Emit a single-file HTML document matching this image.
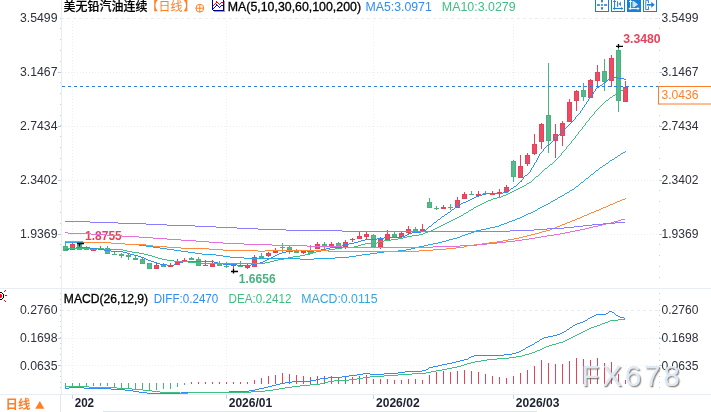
<!DOCTYPE html>
<html lang="zh-CN"><head><meta charset="utf-8"><title>美无铅汽油连续 日线</title>
<style>
html,body{margin:0;padding:0;background:#fff;}
body{width:711px;height:412px;overflow:hidden;position:relative;}
svg{position:absolute;left:0;top:0;display:block;}
text{font-family:"Liberation Sans","Noto Sans CJK SC",sans-serif;font-size:12px;}
.cj{font-family:"Liberation Sans","Noto Sans CJK SC",sans-serif;}
.ax{fill:#2d313c;}
.b{font-weight:bold;}
</style></head><body>
<svg width="711" height="412" viewBox="0 0 711 412">
<rect x="0" y="0" width="711" height="412" fill="#ffffff"/>
<g shape-rendering="crispEdges" fill="none">
<line x1="61" y1="18.5" x2="658" y2="18.5" stroke="#e8edf3" stroke-dasharray="3 3"/>
<line x1="61" y1="310.5" x2="658" y2="310.5" stroke="#e8edf3" stroke-dasharray="3 3"/>
<line x1="62" y1="72.5" x2="658" y2="72.5" stroke="#e9eef3" stroke-dasharray="1 2"/>
<line x1="62" y1="126.5" x2="658" y2="126.5" stroke="#e9eef3" stroke-dasharray="1 2"/>
<line x1="62" y1="180.5" x2="658" y2="180.5" stroke="#e9eef3" stroke-dasharray="1 2"/>
<line x1="62" y1="234.5" x2="658" y2="234.5" stroke="#e9eef3" stroke-dasharray="1 2"/>
<line x1="62" y1="338.5" x2="658" y2="338.5" stroke="#e9eef3" stroke-dasharray="1 2"/>
<line x1="62" y1="365.5" x2="658" y2="365.5" stroke="#e9eef3" stroke-dasharray="1 2"/>
<line x1="72.5" y1="21" x2="72.5" y2="288" stroke="#e9eef3" stroke-dasharray="1 2"/>
<line x1="72.5" y1="311" x2="72.5" y2="393" stroke="#e9eef3" stroke-dasharray="1 2"/>
<line x1="72.5" y1="394" x2="72.5" y2="399" stroke="#c9d6e2"/>
<line x1="226.5" y1="21" x2="226.5" y2="288" stroke="#e9eef3" stroke-dasharray="1 2"/>
<line x1="226.5" y1="311" x2="226.5" y2="393" stroke="#e9eef3" stroke-dasharray="1 2"/>
<line x1="226.5" y1="394" x2="226.5" y2="399" stroke="#c9d6e2"/>
<line x1="373.5" y1="21" x2="373.5" y2="288" stroke="#e9eef3" stroke-dasharray="1 2"/>
<line x1="373.5" y1="311" x2="373.5" y2="393" stroke="#e9eef3" stroke-dasharray="1 2"/>
<line x1="373.5" y1="394" x2="373.5" y2="399" stroke="#c9d6e2"/>
<line x1="513.5" y1="21" x2="513.5" y2="288" stroke="#e9eef3" stroke-dasharray="1 2"/>
<line x1="513.5" y1="311" x2="513.5" y2="393" stroke="#e9eef3" stroke-dasharray="1 2"/>
<line x1="513.5" y1="394" x2="513.5" y2="399" stroke="#c9d6e2"/>
<line x1="61.5" y1="0" x2="61.5" y2="394" stroke="#e7edf3"/>
<line x1="60.5" y1="394" x2="60.5" y2="412" stroke="#dfe6ee"/>
<line x1="0" y1="288.5" x2="711" y2="288.5" stroke="#e7edf3"/>
<line x1="0" y1="394.5" x2="711" y2="394.5" stroke="#e7edf3"/>
<line x1="103" y1="411.5" x2="537" y2="411.5" stroke="#dfe6ee"/>
</g>
<g fill="#b9c6d2" shape-rendering="crispEdges">
<rect x="58" y="72" width="3" height="1"/>
<rect x="659" y="72" width="3" height="1"/>
<rect x="58" y="126" width="3" height="1"/>
<rect x="659" y="126" width="3" height="1"/>
<rect x="58" y="180" width="3" height="1"/>
<rect x="659" y="180" width="3" height="1"/>
<rect x="58" y="234" width="3" height="1"/>
<rect x="659" y="234" width="3" height="1"/>
<rect x="58" y="338" width="3" height="1"/>
<rect x="659" y="338" width="3" height="1"/>
<rect x="58" y="365" width="3" height="1"/>
<rect x="659" y="365" width="3" height="1"/>
</g>
<g fill="#c3d0dc" shape-rendering="crispEdges">
<rect x="60" y="18" width="1" height="1"/>
<rect x="659" y="18" width="1" height="1"/>
<rect x="60" y="28" width="1" height="1"/>
<rect x="659" y="28" width="1" height="1"/>
<rect x="60" y="39" width="1" height="1"/>
<rect x="659" y="39" width="1" height="1"/>
<rect x="60" y="50" width="1" height="1"/>
<rect x="659" y="50" width="1" height="1"/>
<rect x="60" y="61" width="1" height="1"/>
<rect x="659" y="61" width="1" height="1"/>
<rect x="60" y="72" width="1" height="1"/>
<rect x="659" y="72" width="1" height="1"/>
<rect x="60" y="82" width="1" height="1"/>
<rect x="659" y="82" width="1" height="1"/>
<rect x="60" y="93" width="1" height="1"/>
<rect x="659" y="93" width="1" height="1"/>
<rect x="60" y="104" width="1" height="1"/>
<rect x="659" y="104" width="1" height="1"/>
<rect x="60" y="115" width="1" height="1"/>
<rect x="659" y="115" width="1" height="1"/>
<rect x="60" y="125" width="1" height="1"/>
<rect x="659" y="125" width="1" height="1"/>
<rect x="60" y="136" width="1" height="1"/>
<rect x="659" y="136" width="1" height="1"/>
<rect x="60" y="147" width="1" height="1"/>
<rect x="659" y="147" width="1" height="1"/>
<rect x="60" y="158" width="1" height="1"/>
<rect x="659" y="158" width="1" height="1"/>
<rect x="60" y="169" width="1" height="1"/>
<rect x="659" y="169" width="1" height="1"/>
<rect x="60" y="180" width="1" height="1"/>
<rect x="659" y="180" width="1" height="1"/>
<rect x="60" y="190" width="1" height="1"/>
<rect x="659" y="190" width="1" height="1"/>
<rect x="60" y="201" width="1" height="1"/>
<rect x="659" y="201" width="1" height="1"/>
<rect x="60" y="212" width="1" height="1"/>
<rect x="659" y="212" width="1" height="1"/>
<rect x="60" y="223" width="1" height="1"/>
<rect x="659" y="223" width="1" height="1"/>
<rect x="60" y="234" width="1" height="1"/>
<rect x="659" y="234" width="1" height="1"/>
<rect x="60" y="244" width="1" height="1"/>
<rect x="659" y="244" width="1" height="1"/>
<rect x="60" y="255" width="1" height="1"/>
<rect x="659" y="255" width="1" height="1"/>
<rect x="60" y="266" width="1" height="1"/>
<rect x="659" y="266" width="1" height="1"/>
<rect x="60" y="277" width="1" height="1"/>
<rect x="659" y="277" width="1" height="1"/>
<rect x="60" y="293" width="1" height="1"/>
<rect x="659" y="293" width="1" height="1"/>
<rect x="60" y="299" width="1" height="1"/>
<rect x="659" y="299" width="1" height="1"/>
<rect x="60" y="304" width="1" height="1"/>
<rect x="659" y="304" width="1" height="1"/>
<rect x="60" y="310" width="1" height="1"/>
<rect x="659" y="310" width="1" height="1"/>
<rect x="60" y="315" width="1" height="1"/>
<rect x="659" y="315" width="1" height="1"/>
<rect x="60" y="321" width="1" height="1"/>
<rect x="659" y="321" width="1" height="1"/>
<rect x="60" y="326" width="1" height="1"/>
<rect x="659" y="326" width="1" height="1"/>
<rect x="60" y="332" width="1" height="1"/>
<rect x="659" y="332" width="1" height="1"/>
<rect x="60" y="337" width="1" height="1"/>
<rect x="659" y="337" width="1" height="1"/>
<rect x="60" y="343" width="1" height="1"/>
<rect x="659" y="343" width="1" height="1"/>
<rect x="60" y="348" width="1" height="1"/>
<rect x="659" y="348" width="1" height="1"/>
<rect x="60" y="354" width="1" height="1"/>
<rect x="659" y="354" width="1" height="1"/>
<rect x="60" y="360" width="1" height="1"/>
<rect x="659" y="360" width="1" height="1"/>
<rect x="60" y="365" width="1" height="1"/>
<rect x="659" y="365" width="1" height="1"/>
<rect x="60" y="371" width="1" height="1"/>
<rect x="659" y="371" width="1" height="1"/>
<rect x="60" y="376" width="1" height="1"/>
<rect x="659" y="376" width="1" height="1"/>
<rect x="60" y="382" width="1" height="1"/>
<rect x="659" y="382" width="1" height="1"/>
<rect x="60" y="387" width="1" height="1"/>
<rect x="659" y="387" width="1" height="1"/>
</g>
<g shape-rendering="crispEdges">
<rect x="65" y="242" width="1" height="9" fill="#4ab181"/>
<rect x="63" y="246" width="5" height="5" fill="#4ab181"/>
<rect x="64" y="247" width="3" height="3" fill="#55ba8b"/>
<rect x="72" y="243" width="1" height="7" fill="#e6435a"/>
<rect x="70" y="244" width="5" height="6" fill="#e6435a"/>
<rect x="71" y="245" width="3" height="4" fill="#ea4d63"/>
<rect x="79" y="244" width="1" height="6" fill="#4ab181"/>
<rect x="77" y="244" width="5" height="6" fill="#4ab181"/>
<rect x="78" y="245" width="3" height="4" fill="#55ba8b"/>
<rect x="86" y="246" width="1" height="4" fill="#4ab181"/>
<rect x="84" y="249" width="5" height="1" fill="#4ab181"/>
<rect x="93" y="250" width="1" height="1" fill="#e6435a"/>
<rect x="91" y="250" width="5" height="1" fill="#e6435a"/>
<rect x="100" y="246" width="1" height="4" fill="#e6435a"/>
<rect x="98" y="249" width="5" height="1" fill="#e6435a"/>
<rect x="107" y="246" width="1" height="8" fill="#4ab181"/>
<rect x="105" y="248" width="5" height="6" fill="#4ab181"/>
<rect x="106" y="249" width="3" height="4" fill="#55ba8b"/>
<rect x="114" y="252" width="1" height="3" fill="#4ab181"/>
<rect x="112" y="254" width="5" height="1" fill="#4ab181"/>
<rect x="121" y="253" width="1" height="5" fill="#4ab181"/>
<rect x="119" y="254" width="5" height="2" fill="#4ab181"/>
<rect x="128" y="253" width="1" height="7" fill="#4ab181"/>
<rect x="126" y="255" width="5" height="2" fill="#4ab181"/>
<rect x="135" y="256" width="1" height="4" fill="#4ab181"/>
<rect x="133" y="258" width="5" height="2" fill="#4ab181"/>
<rect x="142" y="258" width="1" height="6" fill="#4ab181"/>
<rect x="140" y="259" width="5" height="5" fill="#4ab181"/>
<rect x="141" y="260" width="3" height="3" fill="#55ba8b"/>
<rect x="149" y="263" width="1" height="6" fill="#4ab181"/>
<rect x="147" y="263" width="5" height="6" fill="#4ab181"/>
<rect x="148" y="264" width="3" height="4" fill="#55ba8b"/>
<rect x="156" y="263" width="1" height="6" fill="#e6435a"/>
<rect x="154" y="265" width="5" height="4" fill="#e6435a"/>
<rect x="155" y="266" width="3" height="2" fill="#ea4d63"/>
<rect x="163" y="263" width="1" height="4" fill="#4ab181"/>
<rect x="161" y="265" width="5" height="2" fill="#4ab181"/>
<rect x="170" y="263" width="1" height="4" fill="#e6435a"/>
<rect x="168" y="265" width="5" height="2" fill="#e6435a"/>
<rect x="177" y="259" width="1" height="6" fill="#e6435a"/>
<rect x="175" y="262" width="5" height="3" fill="#e6435a"/>
<rect x="176" y="263" width="3" height="1" fill="#ea4d63"/>
<rect x="184" y="258" width="1" height="3" fill="#e6435a"/>
<rect x="182" y="260" width="5" height="1" fill="#e6435a"/>
<rect x="191" y="257" width="1" height="3" fill="#4ab181"/>
<rect x="189" y="258" width="5" height="2" fill="#4ab181"/>
<rect x="198" y="257" width="1" height="9" fill="#4ab181"/>
<rect x="196" y="259" width="5" height="7" fill="#4ab181"/>
<rect x="197" y="260" width="3" height="5" fill="#55ba8b"/>
<rect x="205" y="260" width="1" height="6" fill="#e6435a"/>
<rect x="203" y="265" width="5" height="1" fill="#e6435a"/>
<rect x="212" y="260" width="1" height="7" fill="#e6435a"/>
<rect x="210" y="264" width="5" height="3" fill="#e6435a"/>
<rect x="211" y="265" width="3" height="1" fill="#ea4d63"/>
<rect x="219" y="261" width="1" height="5" fill="#4ab181"/>
<rect x="217" y="263" width="5" height="3" fill="#4ab181"/>
<rect x="218" y="264" width="3" height="1" fill="#55ba8b"/>
<rect x="226" y="262" width="1" height="6" fill="#4ab181"/>
<rect x="224" y="266" width="5" height="1" fill="#4ab181"/>
<rect x="233" y="265" width="1" height="7" fill="#e6435a"/>
<rect x="231" y="265" width="5" height="1" fill="#e6435a"/>
<rect x="240" y="261" width="1" height="6" fill="#4ab181"/>
<rect x="238" y="266" width="5" height="1" fill="#4ab181"/>
<rect x="247" y="264" width="1" height="5" fill="#e6435a"/>
<rect x="245" y="266" width="5" height="2" fill="#e6435a"/>
<rect x="254" y="255" width="1" height="12" fill="#e6435a"/>
<rect x="252" y="257" width="5" height="10" fill="#e6435a"/>
<rect x="253" y="258" width="3" height="8" fill="#ea4d63"/>
<rect x="261" y="253" width="1" height="5" fill="#4ab181"/>
<rect x="259" y="256" width="5" height="2" fill="#4ab181"/>
<rect x="268" y="252" width="1" height="5" fill="#e6435a"/>
<rect x="266" y="253" width="5" height="3" fill="#e6435a"/>
<rect x="267" y="254" width="3" height="1" fill="#ea4d63"/>
<rect x="275" y="248" width="1" height="5" fill="#e6435a"/>
<rect x="273" y="250" width="5" height="3" fill="#e6435a"/>
<rect x="274" y="251" width="3" height="1" fill="#ea4d63"/>
<rect x="282" y="243" width="1" height="10" fill="#4ab181"/>
<rect x="280" y="247" width="5" height="1" fill="#4ab181"/>
<rect x="289" y="245" width="1" height="9" fill="#4ab181"/>
<rect x="287" y="247" width="5" height="3" fill="#4ab181"/>
<rect x="288" y="248" width="3" height="1" fill="#55ba8b"/>
<rect x="296" y="249" width="1" height="4" fill="#4ab181"/>
<rect x="294" y="251" width="5" height="2" fill="#4ab181"/>
<rect x="303" y="251" width="1" height="3" fill="#e6435a"/>
<rect x="301" y="251" width="5" height="2" fill="#e6435a"/>
<rect x="310" y="245" width="1" height="9" fill="#4ab181"/>
<rect x="308" y="251" width="5" height="3" fill="#4ab181"/>
<rect x="309" y="252" width="3" height="1" fill="#55ba8b"/>
<rect x="317" y="242" width="1" height="7" fill="#e6435a"/>
<rect x="315" y="244" width="5" height="5" fill="#e6435a"/>
<rect x="316" y="245" width="3" height="3" fill="#ea4d63"/>
<rect x="324" y="242" width="1" height="7" fill="#4ab181"/>
<rect x="322" y="244" width="5" height="3" fill="#4ab181"/>
<rect x="323" y="245" width="3" height="1" fill="#55ba8b"/>
<rect x="331" y="242" width="1" height="5" fill="#e6435a"/>
<rect x="329" y="244" width="5" height="3" fill="#e6435a"/>
<rect x="330" y="245" width="3" height="1" fill="#ea4d63"/>
<rect x="338" y="242" width="1" height="5" fill="#4ab181"/>
<rect x="336" y="243" width="5" height="4" fill="#4ab181"/>
<rect x="337" y="244" width="3" height="2" fill="#55ba8b"/>
<rect x="345" y="240" width="1" height="9" fill="#e6435a"/>
<rect x="343" y="242" width="5" height="5" fill="#e6435a"/>
<rect x="344" y="243" width="3" height="3" fill="#ea4d63"/>
<rect x="352" y="238" width="1" height="4" fill="#e6435a"/>
<rect x="350" y="239" width="5" height="1" fill="#e6435a"/>
<rect x="359" y="232" width="1" height="7" fill="#e6435a"/>
<rect x="357" y="236" width="5" height="3" fill="#e6435a"/>
<rect x="358" y="237" width="3" height="1" fill="#ea4d63"/>
<rect x="366" y="232" width="1" height="8" fill="#e6435a"/>
<rect x="364" y="234" width="5" height="3" fill="#e6435a"/>
<rect x="365" y="235" width="3" height="1" fill="#ea4d63"/>
<rect x="373" y="234" width="1" height="13" fill="#4ab181"/>
<rect x="371" y="235" width="5" height="12" fill="#4ab181"/>
<rect x="372" y="236" width="3" height="10" fill="#55ba8b"/>
<rect x="380" y="237" width="1" height="12" fill="#e6435a"/>
<rect x="378" y="239" width="5" height="8" fill="#e6435a"/>
<rect x="379" y="240" width="3" height="6" fill="#ea4d63"/>
<rect x="387" y="230" width="1" height="10" fill="#e6435a"/>
<rect x="385" y="234" width="5" height="6" fill="#e6435a"/>
<rect x="386" y="235" width="3" height="4" fill="#ea4d63"/>
<rect x="394" y="232" width="1" height="5" fill="#4ab181"/>
<rect x="392" y="234" width="5" height="3" fill="#4ab181"/>
<rect x="393" y="235" width="3" height="1" fill="#55ba8b"/>
<rect x="401" y="232" width="1" height="5" fill="#e6435a"/>
<rect x="399" y="233" width="5" height="4" fill="#e6435a"/>
<rect x="400" y="234" width="3" height="2" fill="#ea4d63"/>
<rect x="408" y="226" width="1" height="9" fill="#e6435a"/>
<rect x="406" y="229" width="5" height="4" fill="#e6435a"/>
<rect x="407" y="230" width="3" height="2" fill="#ea4d63"/>
<rect x="415" y="227" width="1" height="4" fill="#4ab181"/>
<rect x="413" y="229" width="5" height="2" fill="#4ab181"/>
<rect x="422" y="224" width="1" height="7" fill="#e6435a"/>
<rect x="420" y="229" width="5" height="2" fill="#e6435a"/>
<rect x="429" y="198" width="1" height="10" fill="#4ab181"/>
<rect x="427" y="202" width="5" height="6" fill="#4ab181"/>
<rect x="428" y="203" width="3" height="4" fill="#55ba8b"/>
<rect x="436" y="206" width="1" height="4" fill="#4ab181"/>
<rect x="434" y="208" width="5" height="1" fill="#4ab181"/>
<rect x="443" y="205" width="1" height="4" fill="#e6435a"/>
<rect x="441" y="207" width="5" height="2" fill="#e6435a"/>
<rect x="450" y="204" width="1" height="6" fill="#4ab181"/>
<rect x="448" y="207" width="5" height="1" fill="#4ab181"/>
<rect x="457" y="197" width="1" height="11" fill="#e6435a"/>
<rect x="455" y="200" width="5" height="8" fill="#e6435a"/>
<rect x="456" y="201" width="3" height="6" fill="#ea4d63"/>
<rect x="464" y="192" width="1" height="7" fill="#e6435a"/>
<rect x="462" y="194" width="5" height="5" fill="#e6435a"/>
<rect x="463" y="195" width="3" height="3" fill="#ea4d63"/>
<rect x="471" y="191" width="1" height="4" fill="#4ab181"/>
<rect x="469" y="194" width="5" height="1" fill="#4ab181"/>
<rect x="478" y="191" width="1" height="6" fill="#e6435a"/>
<rect x="476" y="194" width="5" height="2" fill="#e6435a"/>
<rect x="485" y="191" width="1" height="4" fill="#4ab181"/>
<rect x="483" y="193" width="5" height="1" fill="#4ab181"/>
<rect x="492" y="191" width="1" height="4" fill="#e6435a"/>
<rect x="490" y="194" width="5" height="1" fill="#e6435a"/>
<rect x="499" y="189" width="1" height="8" fill="#e6435a"/>
<rect x="497" y="192" width="5" height="2" fill="#e6435a"/>
<rect x="506" y="185" width="1" height="7" fill="#e6435a"/>
<rect x="504" y="187" width="5" height="5" fill="#e6435a"/>
<rect x="505" y="188" width="3" height="3" fill="#ea4d63"/>
<rect x="513" y="160" width="1" height="22" fill="#4ab181"/>
<rect x="511" y="161" width="5" height="16" fill="#4ab181"/>
<rect x="512" y="162" width="3" height="14" fill="#55ba8b"/>
<rect x="520" y="155" width="1" height="23" fill="#e6435a"/>
<rect x="518" y="166" width="5" height="12" fill="#e6435a"/>
<rect x="519" y="167" width="3" height="10" fill="#ea4d63"/>
<rect x="527" y="153" width="1" height="13" fill="#e6435a"/>
<rect x="525" y="155" width="5" height="9" fill="#e6435a"/>
<rect x="526" y="156" width="3" height="7" fill="#ea4d63"/>
<rect x="534" y="134" width="1" height="21" fill="#e6435a"/>
<rect x="532" y="144" width="5" height="10" fill="#e6435a"/>
<rect x="533" y="145" width="3" height="8" fill="#ea4d63"/>
<rect x="541" y="123" width="1" height="26" fill="#e6435a"/>
<rect x="539" y="124" width="5" height="18" fill="#e6435a"/>
<rect x="540" y="125" width="3" height="16" fill="#ea4d63"/>
<rect x="548" y="63" width="1" height="90" fill="#4ab181"/>
<rect x="546" y="115" width="5" height="26" fill="#4ab181"/>
<rect x="547" y="116" width="3" height="24" fill="#55ba8b"/>
<rect x="555" y="124" width="1" height="34" fill="#e6435a"/>
<rect x="553" y="134" width="5" height="7" fill="#e6435a"/>
<rect x="554" y="135" width="3" height="5" fill="#ea4d63"/>
<rect x="562" y="121" width="1" height="25" fill="#e6435a"/>
<rect x="560" y="123" width="5" height="13" fill="#e6435a"/>
<rect x="561" y="124" width="3" height="11" fill="#ea4d63"/>
<rect x="569" y="99" width="1" height="23" fill="#e6435a"/>
<rect x="567" y="102" width="5" height="20" fill="#e6435a"/>
<rect x="568" y="103" width="3" height="18" fill="#ea4d63"/>
<rect x="576" y="90" width="1" height="21" fill="#e6435a"/>
<rect x="574" y="91" width="5" height="10" fill="#e6435a"/>
<rect x="575" y="92" width="3" height="8" fill="#ea4d63"/>
<rect x="583" y="83" width="1" height="18" fill="#4ab181"/>
<rect x="581" y="90" width="5" height="7" fill="#4ab181"/>
<rect x="582" y="91" width="3" height="5" fill="#55ba8b"/>
<rect x="590" y="79" width="1" height="19" fill="#e6435a"/>
<rect x="588" y="80" width="5" height="18" fill="#e6435a"/>
<rect x="589" y="81" width="3" height="16" fill="#ea4d63"/>
<rect x="597" y="65" width="1" height="23" fill="#e6435a"/>
<rect x="595" y="72" width="5" height="9" fill="#e6435a"/>
<rect x="596" y="73" width="3" height="7" fill="#ea4d63"/>
<rect x="604" y="59" width="1" height="32" fill="#4ab181"/>
<rect x="602" y="71" width="5" height="11" fill="#4ab181"/>
<rect x="603" y="72" width="3" height="9" fill="#55ba8b"/>
<rect x="611" y="55" width="1" height="32" fill="#e6435a"/>
<rect x="609" y="58" width="5" height="23" fill="#e6435a"/>
<rect x="610" y="59" width="3" height="21" fill="#ea4d63"/>
<rect x="618" y="48" width="1" height="64" fill="#4ab181"/>
<rect x="616" y="50" width="5" height="51" fill="#4ab181"/>
<rect x="617" y="51" width="3" height="49" fill="#55ba8b"/>
<rect x="625" y="81" width="1" height="21" fill="#e6435a"/>
<rect x="623" y="87" width="5" height="15" fill="#e6435a"/>
<rect x="624" y="88" width="3" height="13" fill="#ea4d63"/>
</g>
<line x1="62" y1="86.5" x2="658" y2="86.5" stroke="#1a80f0" stroke-width="1" stroke-dasharray="3 3" shape-rendering="crispEdges"/>
<text class="b" x="85.1" y="240.3" fill="#e6435a" textLength="36.6" lengthAdjust="spacingAndGlyphs">1.8755</text>
<text class="b" x="238.8" y="282.9" fill="#4ab181" textLength="36.8" lengthAdjust="spacingAndGlyphs">1.6656</text>
<text class="b" x="623.2" y="43" fill="#e6435a" textLength="37.4" lengthAdjust="spacingAndGlyphs">3.3480</text>
<path d="M65 249h4v1h-4zM69 248h7v1h-7zM76 247h14v1h-14zM90 248h12v1h-12zM102 249h2v1h-2zM104 250h7v1h-7zM111 251h12v1h-12zM123 252h4v1h-4zM127 253h3v1h-3zM130 254h4v1h-4zM134 255h4v1h-4zM138 256h3v1h-3zM141 257h3v1h-3zM144 258h2v1h-2zM146 259h2v1h-2zM148 260h3v1h-3zM151 261h3v1h-3zM154 262h3v1h-3zM157 263h3v1h-3zM160 264h7v1h-7zM167 265h7v1h-7zM174 264h2v1h-2zM176 263h4v1h-4zM180 262h3v1h-3zM183 261h31v1h-31zM214 262h4v1h-4zM218 263h5v1h-5zM223 264h14v1h-14zM237 265h14v1h-14zM251 264h5v1h-5zM256 263h4v1h-4zM260 262h3v1h-3zM263 261h2v1h-2zM265 260h2v1h-2zM267 259h2v1h-2zM269 258h2v1h-2zM271 257h2v1h-2zM273 256h2v1h-2zM275 255h2v1h-2zM277 254h2v1h-2zM279 253h3v1h-3zM282 252h4v1h-4zM286 251h7v1h-7zM293 250h14v1h-14zM307 251h7v1h-7zM314 250h7v1h-7zM321 249h5v1h-5zM326 248h4v1h-4zM330 247h11v1h-11zM341 246h1v2h-1zM342 245h2v1h-2zM344 244h5v1h-5zM349 243h5v1h-5zM354 242h4v1h-4zM358 241h3v1h-3zM361 240h4v1h-4zM365 239h12v1h-12zM377 238h7v1h-7zM384 237h18v1h-18zM402 236h3v1h-3zM405 235h2v1h-2zM407 234h2v1h-2zM409 233h3v1h-3zM412 232h9v1h-9zM421 231h3v1h-3zM424 230h2v1h-2zM426 229h1v1h-1zM427 228h1v1h-1zM428 227h1v1h-1zM429 226h2v1h-2zM431 225h1v1h-1zM432 224h1v1h-1zM433 223h1v1h-1zM434 222h2v1h-2zM436 221h1v1h-1zM437 220h1v1h-1zM438 219h2v1h-2zM440 218h1v1h-1zM441 217h1v1h-1zM442 216h2v1h-2zM444 215h1v1h-1zM445 214h2v1h-2zM447 213h1v1h-1zM448 212h2v1h-2zM450 211h1v1h-1zM451 210h1v1h-1zM452 209h2v1h-2zM454 208h1v1h-1zM455 207h1v1h-1zM456 206h2v1h-2zM458 205h1v1h-1zM459 204h2v1h-2zM461 203h2v1h-2zM463 202h3v1h-3zM466 201h2v1h-2zM468 200h2v1h-2zM470 199h2v1h-2zM472 198h2v1h-2zM474 197h2v1h-2zM476 196h3v1h-3zM479 195h3v1h-3zM482 194h3v1h-3zM485 193h18v1h-18zM503 192h5v1h-5zM508 191h1v1h-1zM509 190h1v1h-1zM510 189h1v1h-1zM511 188h2v1h-2zM513 187h1v1h-1zM514 186h2v1h-2zM516 185h1v1h-1zM517 184h1v1h-1zM518 183h1v1h-1zM519 182h1v1h-1zM520 181h1v1h-1zM521 180h1v2h-1zM522 179h1v1h-1zM523 177h1v2h-1zM524 176h1v1h-1zM525 175h2v1h-2zM527 174h1v1h-1zM528 173h1v1h-1zM529 172h1v1h-1zM530 170h1v2h-1zM531 168h1v2h-1zM532 167h1v1h-1zM533 165h1v2h-1zM534 163h1v2h-1zM535 162h1v1h-1zM536 160h1v2h-1zM537 158h1v2h-1zM538 156h1v2h-1zM539 154h1v2h-1zM540 153h1v1h-1zM541 152h1v1h-1zM542 151h1v1h-1zM543 149h1v2h-1zM544 148h1v1h-1zM545 147h1v1h-1zM546 146h1v1h-1zM547 145h2v1h-2zM549 144h1v1h-1zM550 143h1v1h-1zM551 142h1v1h-1zM552 141h1v1h-1zM553 140h1v1h-1zM554 139h1v1h-1zM555 138h1v1h-1zM556 137h1v1h-1zM557 136h1v1h-1zM558 135h1v1h-1zM559 134h1v1h-1zM560 133h1v1h-1zM561 132h1v1h-1zM562 131h1v1h-1zM563 130h1v1h-1zM564 129h1v1h-1zM565 128h1v1h-1zM566 127h1v1h-1zM567 126h1v1h-1zM568 125h1v1h-1zM569 124h1v1h-1zM570 123h1v1h-1zM571 122h1v1h-1zM572 121h1v1h-1zM573 120h1v1h-1zM574 119h1v1h-1zM575 117h1v2h-1zM576 116h1v1h-1zM577 115h1v1h-1zM578 114h1v1h-1zM579 113h1v1h-1zM580 111h1v2h-1zM581 110h1v1h-1zM582 108h1v2h-1zM583 107h1v1h-1zM584 105h1v2h-1zM585 104h1v1h-1zM586 102h1v2h-1zM587 101h1v1h-1zM588 99h1v2h-1zM589 98h1v1h-1zM590 96h1v2h-1zM591 95h1v1h-1zM592 94h1v1h-1zM593 92h1v2h-1zM594 91h1v1h-1zM595 89h1v2h-1zM596 88h1v1h-1zM597 87h2v1h-2zM599 86h1v1h-1zM600 85h2v1h-2zM602 84h1v1h-1zM603 83h1v1h-1zM604 82h2v1h-2zM606 81h1v1h-1zM607 80h1v1h-1zM608 79h2v1h-2zM610 78h1v1h-1zM611 77h7v1h-7zM618 78h6v1h-6zM624 79h2v1h-2z" fill="#2f8cfa" shape-rendering="crispEdges"/>
<path d="M65 248h25v1h-25zM90 249h7v1h-7zM97 248h7v1h-7zM104 249h19v1h-19zM123 250h4v1h-4zM127 251h5v1h-5zM132 252h7v1h-7zM139 253h5v1h-5zM144 254h4v1h-4zM148 255h4v1h-4zM152 256h3v1h-3zM155 257h3v1h-3zM158 258h4v1h-4zM162 259h5v1h-5zM167 260h7v1h-7zM174 261h14v1h-14zM188 262h11v1h-11zM199 263h66v1h-66zM265 262h5v1h-5zM270 261h4v1h-4zM274 260h4v1h-4zM278 259h6v1h-6zM284 258h4v1h-4zM288 257h5v1h-5zM293 256h7v1h-7zM300 255h5v1h-5zM305 254h5v1h-5zM310 253h3v1h-3zM313 252h3v1h-3zM316 251h5v1h-5zM321 250h8v1h-8zM329 249h6v1h-6zM335 248h7v1h-7zM342 247h12v1h-12zM354 246h4v1h-4zM358 245h3v1h-3zM361 244h4v1h-4zM365 243h12v1h-12zM377 242h2v1h-2zM379 241h5v1h-5zM384 240h7v1h-7zM391 239h7v1h-7zM398 238h5v1h-5zM403 237h4v1h-4zM407 236h5v1h-5zM412 235h7v1h-7zM419 234h4v1h-4zM423 233h2v1h-2zM425 232h3v1h-3zM428 231h3v1h-3zM431 230h2v1h-2zM433 229h2v1h-2zM435 228h2v1h-2zM437 227h2v1h-2zM439 226h2v1h-2zM441 225h2v1h-2zM443 224h2v1h-2zM445 223h2v1h-2zM447 222h2v1h-2zM449 221h2v1h-2zM451 220h2v1h-2zM453 219h2v1h-2zM455 218h2v1h-2zM457 217h2v1h-2zM459 216h2v1h-2zM461 215h2v1h-2zM463 214h1v1h-1zM464 213h2v1h-2zM466 212h2v1h-2zM468 211h1v1h-1zM469 210h2v1h-2zM471 209h2v1h-2zM473 208h1v1h-1zM474 207h2v1h-2zM476 206h2v1h-2zM478 205h2v1h-2zM480 204h2v1h-2zM482 203h2v1h-2zM484 202h2v1h-2zM486 201h2v1h-2zM488 200h3v1h-3zM491 199h2v1h-2zM493 198h4v1h-4zM497 197h4v1h-4zM501 196h2v1h-2zM503 195h3v1h-3zM506 194h2v1h-2zM508 193h2v1h-2zM510 192h2v1h-2zM512 191h2v1h-2zM514 190h2v1h-2zM516 189h2v1h-2zM518 188h2v1h-2zM520 187h2v1h-2zM522 186h2v1h-2zM524 185h2v1h-2zM526 184h1v1h-1zM527 183h2v1h-2zM529 182h2v1h-2zM531 181h1v1h-1zM532 180h1v1h-1zM533 179h1v1h-1zM534 178h1v1h-1zM535 177h1v1h-1zM536 176h2v1h-2zM538 175h1v1h-1zM539 174h1v1h-1zM540 173h1v1h-1zM541 172h1v1h-1zM542 171h1v1h-1zM543 170h1v1h-1zM544 169h1v1h-1zM545 168h2v1h-2zM547 167h1v1h-1zM548 166h1v1h-1zM549 165h1v1h-1zM550 164h2v1h-2zM552 163h1v1h-1zM553 162h1v1h-1zM554 161h1v1h-1zM555 160h1v1h-1zM556 159h1v1h-1zM557 158h1v1h-1zM558 157h1v1h-1zM559 156h1v1h-1zM560 155h1v1h-1zM561 153h1v2h-1zM562 152h1v1h-1zM563 151h1v1h-1zM564 150h1v1h-1zM565 149h1v1h-1zM566 147h1v2h-1zM567 146h1v1h-1zM568 145h1v1h-1zM569 144h1v1h-1zM570 143h1v1h-1zM571 141h1v2h-1zM572 140h1v1h-1zM573 139h1v1h-1zM574 138h1v1h-1zM575 136h1v2h-1zM576 135h1v1h-1zM577 134h1v1h-1zM578 132h1v2h-1zM579 131h1v1h-1zM580 130h1v1h-1zM581 129h1v1h-1zM582 127h1v2h-1zM583 126h1v1h-1zM584 125h1v1h-1zM585 123h1v2h-1zM586 122h1v1h-1zM587 121h1v1h-1zM588 120h1v1h-1zM589 118h1v2h-1zM590 117h1v1h-1zM591 116h1v1h-1zM592 115h1v1h-1zM593 114h1v1h-1zM594 112h1v2h-1zM595 111h1v1h-1zM596 110h1v1h-1zM597 109h1v1h-1zM598 108h1v1h-1zM599 107h1v1h-1zM600 106h1v1h-1zM601 105h1v1h-1zM602 104h1v1h-1zM603 103h1v1h-1zM604 102h1v1h-1zM605 101h1v1h-1zM606 100h2v1h-2zM608 99h1v1h-1zM609 98h1v1h-1zM610 97h2v1h-2zM612 96h1v1h-1zM613 95h2v1h-2zM615 94h1v1h-1zM616 93h2v1h-2zM618 92h2v1h-2zM620 91h1v1h-1zM621 90h2v1h-2zM623 89h2v1h-2z" fill="#3fc083" shape-rendering="crispEdges"/>
<path d="M65 242h46v1h-46zM111 243h14v1h-14zM125 244h14v1h-14zM139 245h7v1h-7zM146 246h7v1h-7zM153 247h7v1h-7zM160 248h7v1h-7zM167 249h7v1h-7zM174 250h7v1h-7zM181 251h7v1h-7zM188 252h7v1h-7zM195 253h7v1h-7zM202 254h14v1h-14zM216 255h7v1h-7zM223 256h7v1h-7zM230 257h14v1h-14zM244 258h56v1h-56zM300 259h14v1h-14zM314 258h21v1h-21zM335 257h14v1h-14zM349 256h7v1h-7zM356 255h6v1h-6zM362 254h8v1h-8zM370 253h7v1h-7zM377 252h7v1h-7zM384 251h14v1h-14zM398 250h8v1h-8zM406 249h5v1h-5zM411 248h4v1h-4zM415 247h4v1h-4zM419 246h5v1h-5zM424 245h4v1h-4zM428 244h5v1h-5zM433 243h5v1h-5zM438 242h4v1h-4zM442 241h4v1h-4zM446 240h3v1h-3zM449 239h4v1h-4zM453 238h4v1h-4zM457 237h3v1h-3zM460 236h2v1h-2zM462 235h3v1h-3zM465 234h3v1h-3zM468 233h3v1h-3zM471 232h3v1h-3zM474 231h2v1h-2zM476 230h5v1h-5zM481 229h5v1h-5zM486 228h4v1h-4zM490 227h5v1h-5zM495 226h4v1h-4zM499 225h2v1h-2zM501 224h3v1h-3zM504 223h3v1h-3zM507 222h2v1h-2zM509 221h3v1h-3zM512 220h3v1h-3zM515 219h2v1h-2zM517 218h3v1h-3zM520 217h2v1h-2zM522 216h2v1h-2zM524 215h2v1h-2zM526 214h2v1h-2zM528 213h3v1h-3zM531 212h2v1h-2zM533 211h2v1h-2zM535 210h2v1h-2zM537 209h1v1h-1zM538 208h2v1h-2zM540 207h2v1h-2zM542 206h2v1h-2zM544 205h2v1h-2zM546 204h2v1h-2zM548 203h2v1h-2zM550 202h1v1h-1zM551 201h2v1h-2zM553 200h2v1h-2zM555 199h2v1h-2zM557 198h1v1h-1zM558 197h2v1h-2zM560 196h2v1h-2zM562 195h2v1h-2zM564 194h1v1h-1zM565 193h2v1h-2zM567 192h2v1h-2zM569 191h1v1h-1zM570 190h2v1h-2zM572 189h2v1h-2zM574 188h1v1h-1zM575 187h1v1h-1zM576 186h2v1h-2zM578 185h1v1h-1zM579 184h1v1h-1zM580 183h1v1h-1zM581 182h2v1h-2zM583 181h1v1h-1zM584 180h1v1h-1zM585 179h1v1h-1zM586 178h2v1h-2zM588 177h1v1h-1zM589 176h1v1h-1zM590 175h1v1h-1zM591 174h2v1h-2zM593 173h1v1h-1zM594 172h1v1h-1zM595 171h1v1h-1zM596 170h2v1h-2zM598 169h1v1h-1zM599 168h1v1h-1zM600 167h2v1h-2zM602 166h1v1h-1zM603 165h2v1h-2zM605 164h1v1h-1zM606 163h2v1h-2zM608 162h1v1h-1zM609 161h1v1h-1zM610 160h2v1h-2zM612 159h2v1h-2zM614 158h1v1h-1zM615 157h2v1h-2zM617 156h1v1h-1zM618 155h2v1h-2zM620 154h1v1h-1zM621 153h2v1h-2zM623 152h2v1h-2zM625 151h1v1h-1z" fill="#27a8e8" shape-rendering="crispEdges"/>
<path d="M65 241h18v1h-18zM83 242h28v1h-28zM111 243h14v1h-14zM125 244h21v1h-21zM146 245h7v1h-7zM153 246h14v1h-14zM167 247h14v1h-14zM181 248h28v1h-28zM209 249h14v1h-14zM223 250h35v1h-35zM258 251h7v1h-7zM265 250h63v1h-63zM328 251h91v1h-91zM419 250h14v1h-14zM433 249h13v1h-13zM446 248h10v1h-10zM456 247h8v1h-8zM464 246h3v1h-3zM467 245h7v1h-7zM474 244h8v1h-8zM482 243h7v1h-7zM489 242h8v1h-8zM497 241h6v1h-6zM503 240h5v1h-5zM508 239h6v1h-6zM514 238h5v1h-5zM519 237h4v1h-4zM523 236h4v1h-4zM527 235h4v1h-4zM531 234h4v1h-4zM535 233h4v1h-4zM539 232h3v1h-3zM542 231h4v1h-4zM546 230h4v1h-4zM550 229h2v1h-2zM552 228h3v1h-3zM555 227h2v1h-2zM557 226h3v1h-3zM560 225h2v1h-2zM562 224h3v1h-3zM565 223h2v1h-2zM567 222h3v1h-3zM570 221h2v1h-2zM572 220h3v1h-3zM575 219h2v1h-2zM577 218h3v1h-3zM580 217h2v1h-2zM582 216h2v1h-2zM584 215h3v1h-3zM587 214h2v1h-2zM589 213h2v1h-2zM591 212h3v1h-3zM594 211h2v1h-2zM596 210h3v1h-3zM599 209h2v1h-2zM601 208h2v1h-2zM603 207h3v1h-3zM606 206h2v1h-2zM608 205h2v1h-2zM610 204h3v1h-3zM613 203h2v1h-2zM615 202h2v1h-2zM617 201h3v1h-3zM620 200h2v1h-2zM622 199h3v1h-3zM625 198h1v1h-1z" fill="#ff8a3a" shape-rendering="crispEdges"/>
<path d="M65 232h3v1h-3zM68 233h23v1h-23zM91 234h16v1h-16zM107 235h15v1h-15zM122 236h17v1h-17zM139 237h14v1h-14zM153 238h14v1h-14zM167 239h14v1h-14zM181 240h15v1h-15zM196 241h13v1h-13zM209 242h14v1h-14zM223 243h21v1h-21zM244 244h28v1h-28zM272 245h35v1h-35zM307 246h35v1h-35zM342 247h91v1h-91zM433 246h27v1h-27zM460 245h17v1h-17zM477 244h10v1h-10zM487 243h10v1h-10zM497 242h9v1h-9zM506 241h9v1h-9zM515 240h7v1h-7zM522 239h7v1h-7zM529 238h6v1h-6zM535 237h6v1h-6zM541 236h6v1h-6zM547 235h7v1h-7zM554 234h6v1h-6zM560 233h5v1h-5zM565 232h5v1h-5zM570 231h5v1h-5zM575 230h5v1h-5zM580 229h5v1h-5zM585 228h4v1h-4zM589 227h4v1h-4zM593 226h5v1h-5zM598 225h4v1h-4zM602 224h4v1h-4zM606 223h5v1h-5zM611 222h3v1h-3zM614 221h4v1h-4zM618 220h3v1h-3zM621 219h4v1h-4z" fill="#e66fe0" shape-rendering="crispEdges"/>
<path d="M65 221h25v1h-25zM90 222h28v1h-28zM118 223h28v1h-28zM146 224h21v1h-21zM167 225h28v1h-28zM195 226h21v1h-21zM216 227h21v1h-21zM237 228h21v1h-21zM258 229h28v1h-28zM286 230h56v1h-56zM342 231h168v1h-168zM510 230h24v1h-24zM534 229h13v1h-13zM547 228h17v1h-17zM564 227h10v1h-10zM574 226h9v1h-9zM583 225h9v1h-9zM592 224h11v1h-11zM603 223h12v1h-12zM615 222h10v1h-10z" fill="#8a7cff" shape-rendering="crispEdges"/>
<g stroke="#000" stroke-width="1.3" fill="none">
<path d="M77 243.5H84M79.5 243V246.5"/>
<path d="M231 271.5H238M233.5 269V273.5"/>
<path d="M616 46.4H623M618.5 44V47.9"/>
</g>
<g shape-rendering="crispEdges">
<rect x="65" y="383" width="1" height="6" fill="#4ab181"/>
<rect x="72" y="383" width="1" height="4" fill="#4ab181"/>
<rect x="79" y="383" width="1" height="3" fill="#4ab181"/>
<rect x="86" y="383" width="1" height="3" fill="#4ab181"/>
<rect x="93" y="383" width="1" height="3" fill="#4ab181"/>
<rect x="100" y="383" width="1" height="3" fill="#4ab181"/>
<rect x="107" y="383" width="1" height="3" fill="#4ab181"/>
<rect x="114" y="383" width="1" height="4" fill="#4ab181"/>
<rect x="121" y="383" width="1" height="5" fill="#4ab181"/>
<rect x="128" y="383" width="1" height="5" fill="#4ab181"/>
<rect x="135" y="383" width="1" height="6" fill="#4ab181"/>
<rect x="142" y="383" width="1" height="6" fill="#4ab181"/>
<rect x="149" y="383" width="1" height="7" fill="#4ab181"/>
<rect x="156" y="383" width="1" height="7" fill="#4ab181"/>
<rect x="163" y="383" width="1" height="6" fill="#4ab181"/>
<rect x="170" y="383" width="1" height="6" fill="#4ab181"/>
<rect x="177" y="383" width="1" height="4" fill="#4ab181"/>
<rect x="184" y="383" width="1" height="2" fill="#4ab181"/>
<rect x="191" y="382" width="1" height="2" fill="#e6435a"/>
<rect x="198" y="382" width="1" height="2" fill="#e6435a"/>
<rect x="205" y="382" width="1" height="2" fill="#e6435a"/>
<rect x="212" y="382" width="1" height="2" fill="#e6435a"/>
<rect x="219" y="382" width="1" height="2" fill="#e6435a"/>
<rect x="226" y="382" width="1" height="2" fill="#e6435a"/>
<rect x="233" y="382" width="1" height="2" fill="#e6435a"/>
<rect x="240" y="382" width="1" height="2" fill="#e6435a"/>
<rect x="247" y="382" width="1" height="2" fill="#e6435a"/>
<rect x="254" y="380" width="1" height="4" fill="#e6435a"/>
<rect x="261" y="378" width="1" height="6" fill="#e6435a"/>
<rect x="268" y="376" width="1" height="8" fill="#e6435a"/>
<rect x="275" y="375" width="1" height="9" fill="#e6435a"/>
<rect x="282" y="373" width="1" height="11" fill="#e6435a"/>
<rect x="289" y="374" width="1" height="10" fill="#e6435a"/>
<rect x="296" y="375" width="1" height="9" fill="#e6435a"/>
<rect x="303" y="376" width="1" height="8" fill="#e6435a"/>
<rect x="310" y="377" width="1" height="7" fill="#e6435a"/>
<rect x="317" y="376" width="1" height="8" fill="#e6435a"/>
<rect x="324" y="376" width="1" height="8" fill="#e6435a"/>
<rect x="331" y="376" width="1" height="8" fill="#e6435a"/>
<rect x="338" y="377" width="1" height="7" fill="#e6435a"/>
<rect x="345" y="377" width="1" height="7" fill="#e6435a"/>
<rect x="352" y="377" width="1" height="7" fill="#e6435a"/>
<rect x="359" y="376" width="1" height="8" fill="#e6435a"/>
<rect x="366" y="375" width="1" height="9" fill="#e6435a"/>
<rect x="373" y="379" width="1" height="5" fill="#e6435a"/>
<rect x="380" y="379" width="1" height="5" fill="#e6435a"/>
<rect x="387" y="379" width="1" height="5" fill="#e6435a"/>
<rect x="394" y="380" width="1" height="4" fill="#e6435a"/>
<rect x="401" y="380" width="1" height="4" fill="#e6435a"/>
<rect x="408" y="379" width="1" height="5" fill="#e6435a"/>
<rect x="415" y="379" width="1" height="5" fill="#e6435a"/>
<rect x="422" y="380" width="1" height="4" fill="#e6435a"/>
<rect x="429" y="375" width="1" height="9" fill="#e6435a"/>
<rect x="436" y="372" width="1" height="12" fill="#e6435a"/>
<rect x="443" y="371" width="1" height="13" fill="#e6435a"/>
<rect x="450" y="372" width="1" height="12" fill="#e6435a"/>
<rect x="457" y="371" width="1" height="13" fill="#e6435a"/>
<rect x="464" y="370" width="1" height="14" fill="#e6435a"/>
<rect x="471" y="371" width="1" height="13" fill="#e6435a"/>
<rect x="478" y="372" width="1" height="12" fill="#e6435a"/>
<rect x="485" y="374" width="1" height="10" fill="#e6435a"/>
<rect x="492" y="376" width="1" height="8" fill="#e6435a"/>
<rect x="499" y="377" width="1" height="7" fill="#e6435a"/>
<rect x="506" y="378" width="1" height="6" fill="#e6435a"/>
<rect x="513" y="376" width="1" height="8" fill="#e6435a"/>
<rect x="520" y="373" width="1" height="11" fill="#e6435a"/>
<rect x="527" y="370" width="1" height="14" fill="#e6435a"/>
<rect x="534" y="366" width="1" height="18" fill="#e6435a"/>
<rect x="541" y="360" width="1" height="24" fill="#e6435a"/>
<rect x="548" y="363" width="1" height="21" fill="#e6435a"/>
<rect x="555" y="364" width="1" height="20" fill="#e6435a"/>
<rect x="562" y="364" width="1" height="20" fill="#e6435a"/>
<rect x="569" y="361" width="1" height="23" fill="#e6435a"/>
<rect x="576" y="358" width="1" height="26" fill="#e6435a"/>
<rect x="583" y="359" width="1" height="25" fill="#e6435a"/>
<rect x="590" y="360" width="1" height="24" fill="#e6435a"/>
<rect x="597" y="358" width="1" height="26" fill="#e6435a"/>
<rect x="604" y="363" width="1" height="21" fill="#e6435a"/>
<rect x="611" y="362" width="1" height="22" fill="#e6435a"/>
<rect x="618" y="374" width="1" height="10" fill="#e6435a"/>
<rect x="625" y="380" width="1" height="4" fill="#e6435a"/>
</g>
<path d="M65 388h4v1h-4zM69 387h15v1h-15zM84 388h27v1h-27zM111 389h14v1h-14zM125 390h8v1h-8zM133 391h6v1h-6zM139 392h8v1h-8zM147 393h34v1h-34zM181 392h48v1h-48zM229 391h20v1h-20zM249 390h6v1h-6zM255 389h4v1h-4zM259 388h5v1h-5zM264 387h4v1h-4zM268 386h4v1h-4zM272 385h4v1h-4zM276 384h4v1h-4zM280 383h5v1h-5zM285 382h7v1h-7zM292 381h18v1h-18zM310 380h6v1h-6zM316 379h4v1h-4zM320 378h8v1h-8zM328 377h14v1h-14zM342 376h7v1h-7zM349 375h8v1h-8zM357 374h6v1h-6zM363 373h7v1h-7zM370 374h14v1h-14zM384 373h14v1h-14zM398 372h7v1h-7zM405 371h17v1h-17zM422 370h4v1h-4zM426 369h2v1h-2zM428 368h1v1h-1zM429 367h4v1h-4zM433 366h5v1h-5zM438 365h4v1h-4zM442 364h5v1h-5zM447 363h5v1h-5zM452 362h4v1h-4zM456 361h4v1h-4zM460 360h4v1h-4zM464 359h4v1h-4zM468 358h1v1h-1zM469 357h2v1h-2zM471 356h3v1h-3zM474 355h30v1h-30zM504 354h8v1h-8zM512 353h4v1h-4zM516 352h3v1h-3zM519 351h2v1h-2zM521 350h2v1h-2zM523 349h2v1h-2zM525 348h1v1h-1zM526 347h2v1h-2zM528 346h2v1h-2zM530 345h2v1h-2zM532 344h2v1h-2zM534 343h1v1h-1zM535 342h2v1h-2zM537 341h2v1h-2zM539 340h1v1h-1zM540 339h2v1h-2zM542 338h2v1h-2zM544 337h4v1h-4zM548 336h5v1h-5zM553 335h4v1h-4zM557 334h3v1h-3zM560 333h2v1h-2zM562 332h2v1h-2zM564 331h2v1h-2zM566 330h1v1h-1zM567 329h2v1h-2zM569 328h1v1h-1zM570 327h2v1h-2zM572 326h1v1h-1zM573 325h2v1h-2zM575 324h2v1h-2zM577 323h3v1h-3zM580 322h3v1h-3zM583 321h2v1h-2zM585 320h2v1h-2zM587 319h1v1h-1zM588 318h2v1h-2zM590 317h2v1h-2zM592 316h2v1h-2zM594 315h2v1h-2zM596 314h10v1h-10zM606 313h2v1h-2zM608 312h1v1h-1zM609 311h3v1h-3zM612 312h2v1h-2zM614 313h1v1h-1zM615 314h1v1h-1zM616 315h2v1h-2zM618 316h2v1h-2zM620 317h4v1h-4zM624 318h1v1h-1z" fill="#2f8cfa" shape-rendering="crispEdges"/>
<path d="M65 386h24v1h-24zM89 387h28v1h-28zM117 388h15v1h-15zM132 389h11v1h-11zM143 390h9v1h-9zM152 391h8v1h-8zM160 392h20v1h-20zM180 393h8v1h-8zM188 392h63v1h-63zM251 391h14v1h-14zM265 390h8v1h-8zM273 389h6v1h-6zM279 388h6v1h-6zM285 387h7v1h-7zM292 386h8v1h-8zM300 385h10v1h-10zM310 384h10v1h-10zM320 383h4v1h-4zM324 382h4v1h-4zM328 381h6v1h-6zM334 380h15v1h-15zM349 379h8v1h-8zM357 378h6v1h-6zM363 377h7v1h-7zM370 376h14v1h-14zM384 375h14v1h-14zM398 374h14v1h-14zM412 373h14v1h-14zM426 372h5v1h-5zM431 371h5v1h-5zM436 370h6v1h-6zM442 369h5v1h-5zM447 368h5v1h-5zM452 367h5v1h-5zM457 366h4v1h-4zM461 365h3v1h-3zM464 364h3v1h-3zM467 363h4v1h-4zM471 362h4v1h-4zM475 361h6v1h-6zM481 360h6v1h-6zM487 359h10v1h-10zM497 358h12v1h-12zM509 357h7v1h-7zM516 356h6v1h-6zM522 355h3v1h-3zM525 354h4v1h-4zM529 353h3v1h-3zM532 352h3v1h-3zM535 351h2v1h-2zM537 350h3v1h-3zM540 349h2v1h-2zM542 348h2v1h-2zM544 347h2v1h-2zM546 346h3v1h-3zM549 345h3v1h-3zM552 344h4v1h-4zM556 343h3v1h-3zM559 342h4v1h-4zM563 341h2v1h-2zM565 340h2v1h-2zM567 339h2v1h-2zM569 338h2v1h-2zM571 337h2v1h-2zM573 336h2v1h-2zM575 335h2v1h-2zM577 334h2v1h-2zM579 333h2v1h-2zM581 332h2v1h-2zM583 331h2v1h-2zM585 330h2v1h-2zM587 329h2v1h-2zM589 328h2v1h-2zM591 327h3v1h-3zM594 326h3v1h-3zM597 325h3v1h-3zM600 324h2v1h-2zM602 323h3v1h-3zM605 322h3v1h-3zM608 321h2v1h-2zM610 320h8v1h-8zM618 319h7v1h-7z" fill="#3fc083" shape-rendering="crispEdges"/>
<text class="ax" x="57.5" y="21.5" text-anchor="end" textLength="37.5" lengthAdjust="spacingAndGlyphs">3.5499</text>
<text class="ax" x="661.5" y="21.5" textLength="37" lengthAdjust="spacingAndGlyphs">3.5499</text>
<text class="ax" x="57.5" y="75.5" text-anchor="end" textLength="37.5" lengthAdjust="spacingAndGlyphs">3.1467</text>
<text class="ax" x="661.5" y="75.5" textLength="37" lengthAdjust="spacingAndGlyphs">3.1467</text>
<text class="ax" x="57.5" y="129.5" text-anchor="end" textLength="37.5" lengthAdjust="spacingAndGlyphs">2.7434</text>
<text class="ax" x="661.5" y="129.5" textLength="37" lengthAdjust="spacingAndGlyphs">2.7434</text>
<text class="ax" x="57.5" y="183.5" text-anchor="end" textLength="37.5" lengthAdjust="spacingAndGlyphs">2.3402</text>
<text class="ax" x="661.5" y="183.5" textLength="37" lengthAdjust="spacingAndGlyphs">2.3402</text>
<text class="ax" x="57.5" y="238" text-anchor="end" textLength="37.5" lengthAdjust="spacingAndGlyphs">1.9369</text>
<text class="ax" x="661.5" y="238" textLength="37" lengthAdjust="spacingAndGlyphs">1.9369</text>
<text class="ax" x="57.5" y="314" text-anchor="end" textLength="37.5" lengthAdjust="spacingAndGlyphs">0.2760</text>
<text class="ax" x="661.5" y="314" textLength="37" lengthAdjust="spacingAndGlyphs">0.2760</text>
<text class="ax" x="57.5" y="341.5" text-anchor="end" textLength="37.5" lengthAdjust="spacingAndGlyphs">0.1698</text>
<text class="ax" x="661.5" y="341.5" textLength="37" lengthAdjust="spacingAndGlyphs">0.1698</text>
<text class="ax" x="57.5" y="369.5" text-anchor="end" textLength="37.5" lengthAdjust="spacingAndGlyphs">0.0635</text>
<text class="ax" x="661.5" y="369.5" textLength="37" lengthAdjust="spacingAndGlyphs">0.0635</text>
<rect x="658.5" y="86.5" width="60" height="17.5" fill="#fff" stroke="#ff7f27" stroke-width="1"/>
<text x="661.5" y="98.9" fill="#ff7f27" textLength="37" lengthAdjust="spacingAndGlyphs">3.0436</text>
<text class="cj" x="63.5" y="11.2" fill="#000" style="font-weight:500" stroke="#000" stroke-width="0.2" textLength="84" lengthAdjust="spacingAndGlyphs">美无铅汽油连续</text>
<text class="cj" x="146.2" y="11.2" fill="#ff7f27">【</text>
<text class="cj" x="158.6" y="11.2" fill="#ff7f27" textLength="24" lengthAdjust="spacingAndGlyphs">日线</text>
<text class="cj" x="183.3" y="11.2" fill="#ff7f27">】</text>
<g stroke="#ff7f27" stroke-width="1" fill="none"><circle cx="199.8" cy="8.2" r="3.9"/><path d="M195.9 8.2H203.7M199.8 4.3V12.1"/></g>
<g shape-rendering="crispEdges">
<rect x="212" y="0" width="1" height="10" fill="#000080"/>
<rect x="223" y="0" width="1" height="11" fill="#000080"/>
<rect x="213" y="10" width="11" height="1" fill="#000080"/>
<rect x="224" y="1" width="1" height="11" fill="#a3a39a"/>
<rect x="214" y="11" width="11" height="1" fill="#a3a39a"/>
<rect x="213" y="5" width="1" height="1" fill="#ff0000"/>
<rect x="213" y="8" width="1" height="1" fill="#0000ff"/>
<rect x="214" y="4" width="1" height="1" fill="#ff0000"/>
<rect x="214" y="7" width="1" height="1" fill="#0000ff"/>
<rect x="215" y="3" width="1" height="1" fill="#ff0000"/>
<rect x="215" y="6" width="1" height="1" fill="#0000ff"/>
<rect x="216" y="2" width="1" height="1" fill="#ff0000"/>
<rect x="216" y="5" width="1" height="1" fill="#0000ff"/>
<rect x="216" y="1" width="1" height="1" fill="#ff0000"/>
<rect x="216" y="4" width="1" height="1" fill="#0000ff"/>
<rect x="217" y="2" width="1" height="1" fill="#ff0000"/>
<rect x="217" y="5" width="1" height="1" fill="#0000ff"/>
<rect x="218" y="3" width="1" height="1" fill="#ff0000"/>
<rect x="218" y="6" width="1" height="1" fill="#0000ff"/>
<rect x="219" y="4" width="1" height="1" fill="#ff0000"/>
<rect x="219" y="7" width="1" height="1" fill="#0000ff"/>
<rect x="220" y="3" width="1" height="1" fill="#ff0000"/>
<rect x="220" y="6" width="1" height="1" fill="#0000ff"/>
<rect x="221" y="2" width="1" height="1" fill="#ff0000"/>
<rect x="221" y="5" width="1" height="1" fill="#0000ff"/>
<rect x="222" y="2" width="1" height="1" fill="#ff0000"/>
<rect x="222" y="5" width="1" height="1" fill="#0000ff"/>
</g>
<text x="227.8" y="11" fill="#000" stroke="#000" stroke-width="0.3" textLength="133.2" lengthAdjust="spacingAndGlyphs">MA(5,10,30,60,100,200)</text>
<text x="365.5" y="11" fill="#2f8cfa" textLength="66.3" lengthAdjust="spacingAndGlyphs">MA5:3.0971</text>
<text x="441.8" y="11" fill="#3fc083" textLength="73.8" lengthAdjust="spacingAndGlyphs">MA10:3.0279</text>
<g shape-rendering="crispEdges">
<rect x="595.5" y="-2.5" width="13" height="14" fill="#fff" stroke="#1b7fd8" stroke-width="1"/>
<rect x="611.5" y="-2.5" width="13" height="14" fill="#fff" stroke="#1b7fd8" stroke-width="1"/>
<rect x="627.5" y="-2.5" width="13" height="14" fill="#1b7fd8" stroke="#1b7fd8" stroke-width="1"/>
<rect x="643.5" y="-2.5" width="13" height="14" fill="#fff" stroke="#1b7fd8" stroke-width="1"/>
</g>
<g fill="#1b7fd8">
<rect x="597" y="4.2" width="2.9" height="1.6"/><rect x="604.1" y="4.2" width="2.9" height="1.6"/>
<rect x="601.1" y="4.2" width="1.8" height="1.6"/>
<rect x="601.1" y="0" width="1.8" height="2.3"/><rect x="601.1" y="7.1" width="1.8" height="2.5"/>
<rect x="614.1" y="0" width="1" height="9.4"/><rect x="613.3" y="1" width="2.6" height="1"/>
<rect x="613.3" y="8" width="9.4" height="1"/>
<path d="M623.3 8.5l-2.1-1.6v3.2zM612.7 8.5l1.9-1.4v2.8z"/>
<rect x="617.1" y="1.3" width="1" height="5.6"/>
<path d="M618.4 3.9L621 1.5V6.2Z" opacity="0.85"/>
</g>
<g fill="#fff">
<rect x="630.1" y="0" width="1" height="9.4"/><rect x="629" y="1" width="2.9" height="1"/>
<rect x="629" y="8.1" width="10" height="1"/>
<path d="M639.6 8.6l-2.1-1.6v3.2zM628.5 8.6l1.9-1.4v2.8z"/>
<rect x="632.6" y="1" width="1.1" height="6.2"/>
<path d="M633.9 1.3V7.6L638 4.5Z" opacity="0.8"/>
</g>
<rect x="645.8" y="0.7" width="2.7" height="8.8" fill="none" stroke="#1b7fd8" stroke-width="0.9"/>
<rect x="647.6" y="3.2" width="2" height="3.2" fill="#fff"/>
<rect x="647" y="4" width="5" height="1.6" fill="#1b7fd8"/>
<path d="M651.3 1.8V7.8L654.7 4.8Z" fill="#1b7fd8"/>
<text x="63.8" y="303" fill="#000" stroke="#000" stroke-width="0.3" textLength="84.3" lengthAdjust="spacingAndGlyphs">MACD(26,12,9)</text>
<text x="153.7" y="303" fill="#2f8cfa" textLength="64.6" lengthAdjust="spacingAndGlyphs">DIFF:0.2470</text>
<text x="228.5" y="303" fill="#3fc083" textLength="63" lengthAdjust="spacingAndGlyphs">DEA:0.2412</text>
<text x="301.2" y="303" fill="#35a6e6" textLength="76.3" lengthAdjust="spacingAndGlyphs">MACD:0.0115</text>
<g shape-rendering="crispEdges">
<rect x="0" y="292" width="2" height="1" fill="#000"/>
<rect x="0" y="299" width="2" height="1" fill="#000"/>
<rect x="2" y="293" width="1" height="1" fill="#000"/>
<rect x="2" y="298" width="1" height="1" fill="#000"/>
<rect x="3" y="294" width="1" height="4" fill="#000"/>
<rect x="0" y="294" width="1" height="4" fill="#ff0000"/><rect x="1" y="295" width="1" height="2" fill="#ff0000"/><rect x="1" y="294" width="1" height="1" fill="#ff8080"/><rect x="1" y="297" width="1" height="1" fill="#ff8080"/>
<rect x="4" y="291" width="1" height="1" fill="#ff0000"/>
<rect x="5" y="290" width="1" height="1" fill="#ff0000"/>
<rect x="5" y="295" width="2" height="1" fill="#ff0000"/>
<rect x="4" y="300" width="1" height="1" fill="#ff0000"/>
<rect x="5" y="301" width="1" height="1" fill="#ff0000"/>
</g>
<text class="cj b" x="5.6" y="409" fill="#ff7f27" style="font-size:12.4px" textLength="24.8" lengthAdjust="spacingAndGlyphs">日线</text>
<path d="M35.2 408.8L39.8 401L44.4 408.8Z" fill="#ff7f27"/>
<text class="b" x="74.7" y="407.3" fill="#1e2130" textLength="19.4" lengthAdjust="spacingAndGlyphs">202</text>
<text class="b" x="228.7" y="407.3" fill="#1e2130" textLength="43.6" lengthAdjust="spacingAndGlyphs">2026/01</text>
<text class="b" x="376" y="407.3" fill="#1e2130" textLength="43.6" lengthAdjust="spacingAndGlyphs">2026/02</text>
<text class="b" x="515.8" y="407.3" fill="#1e2130" textLength="43.6" lengthAdjust="spacingAndGlyphs">2026/03</text>
<filter id="wsh" x="-10%" y="-20%" width="120%" height="150%"><feDropShadow dx="1.3" dy="1.3" stdDeviation="0.7" flood-color="#6a5c50" flood-opacity="0.75"/></filter>
<text x="581.3" y="386" style="font-size:29.6px;letter-spacing:2.8px" fill="#dce8f5" opacity="0.95" filter="url(#wsh)">FX678</text>
</svg>
</body></html>
